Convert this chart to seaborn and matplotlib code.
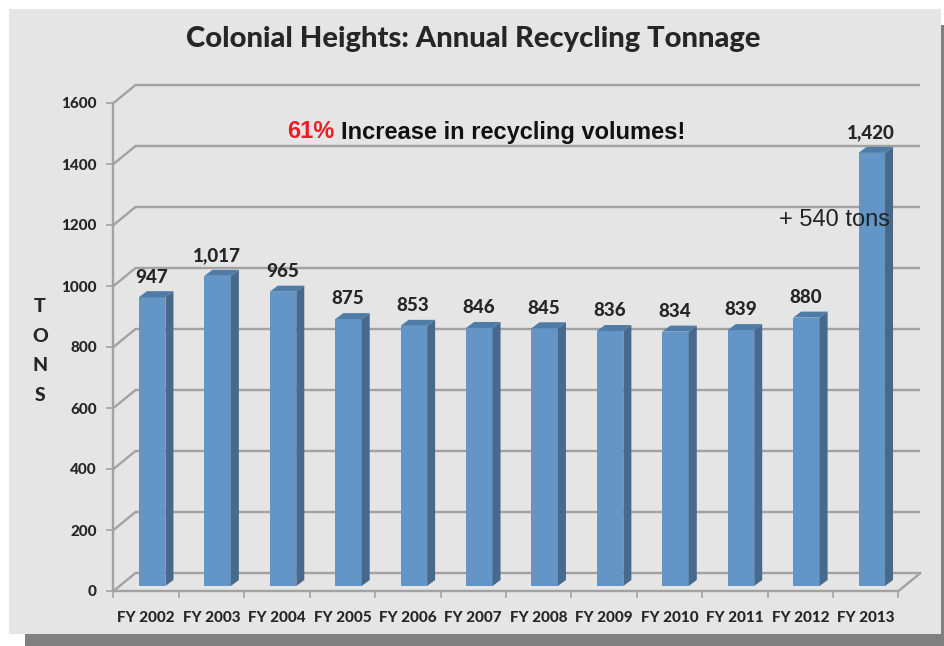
import matplotlib
matplotlib.use("Agg")
import matplotlib.pyplot as plt
import seaborn as sns
from matplotlib.patches import Polygon, Rectangle

years = ["FY 2002", "FY 2003", "FY 2004", "FY 2005", "FY 2006", "FY 2007",
         "FY 2008", "FY 2009", "FY 2010", "FY 2011", "FY 2012", "FY 2013"]
tons = [947, 1017, 965, 875, 853, 846, 845, 836, 834, 839, 880, 1420]
y_ticks = [0, 200, 400, 600, 800, 1000, 1200, 1400, 1600]

W, H = 945, 646
GRID = "#a2a2a2"
TEXT = "#262626"

sns.set_style("white")
plt.rcParams["font.family"] = ["Lato", "DejaVu Sans"]

fig = plt.figure(figsize=(W / 100, H / 100), dpi=100, facecolor="white")


def rect_px(x0, y0, x1, y1, color):
    fig.add_artist(Rectangle((x0 / W, 1 - y1 / H), (x1 - x0) / W, (y1 - y0) / H,
                             transform=fig.transFigure, color=color, lw=0, zorder=-10))


def text_px(x, y, s, **kw):
    fig.text(x / W, 1 - y / H, s, **kw)


# drop shadow and slide panel
rect_px(25, 25, 945, 646, "#808080")
rect_px(9, 9, 941, 634, "#e5e5e5")

# axes = front plane of the 3d box
ax = fig.add_axes([113.5 / W, 1 - 591 / H, 785 / W, 488 / H])
ax.patch.set_visible(False)

sns.barplot(x=years, y=tons, color="#6396c6", saturation=1, width=0.405, linewidth=0,
            ax=ax, zorder=3)

ax.set_xlim(-0.5, 11.5)
ax.set_ylim(0, 1600)

# pixel sizes converted to data units
ux = 12 / 785
uy = 1600 / 488
wall_dx, wall_dy = 22 * ux, 18 * uy
bar_dx, bar_dy = 8 * ux, 6 * uy
lift_x, lift_y = 6 * ux, 5 * uy

# back wall lines and the diagonals joining them to the axis
ax.hlines([v + wall_dy for v in y_ticks], -0.5 + wall_dx, 11.5 + wall_dx, colors=GRID, lw=1.7,
          clip_on=False, zorder=1)
for v in y_ticks:
    ax.plot([-0.5, -0.5 + wall_dx], [v, v + wall_dy], color=GRID, lw=1.7,
            clip_on=False, zorder=1)
ax.plot([11.5, 11.5 + wall_dx], [0, wall_dy], color=GRID, lw=1.7, clip_on=False, zorder=1)

# move the bars back into the box and add side and top faces
for bar, value in zip(ax.patches, tons):
    bar.set_x(bar.get_x() + lift_x)
    bar.set_y(lift_y)
    bar.set_clip_on(False)
    x0 = bar.get_x()
    x1 = x0 + bar.get_width()
    y0 = lift_y
    y1 = lift_y + value
    ax.add_patch(Polygon([(x1, y0), (x1 + bar_dx, y0 + bar_dy), (x1 + bar_dx, y1 + bar_dy), (x1, y1)],
                         color="#476a8c", lw=0, clip_on=False, zorder=3))
    ax.add_patch(Polygon([(x0, y1), (x1, y1), (x1 + bar_dx, y1 + bar_dy), (x0 + bar_dx, y1 + bar_dy)],
                         color="#4f7ca6", lw=0, clip_on=False, zorder=3))
    ax.annotate(f"{value:,}", ((x0 + x1) / 2 - 0.01, y1), xytext=(0, 14.5), textcoords="offset points",
                ha="center", va="center", fontsize=13.5, fontweight="black", color=TEXT,
                annotation_clip=False, zorder=5)

# axis lines and ticks
sns.despine(ax=ax, top=True, right=True)
for side in ["left", "bottom"]:
    ax.spines[side].set_color(GRID)
    ax.spines[side].set_linewidth(1.7)
ax.set_yticks(y_ticks)
ax.set_xticks([i - 0.5 for i in range(13)], minor=True)
ax.tick_params(axis="x", which="minor", bottom=True, length=5, width=1.2, color=GRID)
ax.tick_params(axis="x", which="major", bottom=False, pad=11)
ax.tick_params(axis="y", left=True, length=5, width=1.2, color=GRID, pad=7)
for label in ax.get_xticklabels():
    label.set(fontsize=11, fontweight="black", color=TEXT)
for label in ax.get_yticklabels():
    label.set(fontsize=11, fontweight="black", color=TEXT)
ax.set_xlabel("")
ax.set_ylabel("")

text_px(40, 351, "T\nO\nN\nS", ha="center", va="center", fontsize=14,
        fontweight="black", color=TEXT, linespacing=1.9)
text_px(473, 39, "Colonial Heights: Annual Recycling Tonnage", ha="center", va="center",
        fontsize=21, fontweight="black", color=TEXT)

text_px(287, 132, "61%", ha="left", va="center", fontsize=17, fontweight="bold",
        color="#ee1c25", family="Liberation Sans")
text_px(341, 132, "Increase in recycling volumes!", ha="left", va="center", fontsize=17,
        fontweight="bold", color="#111111", family="Liberation Sans")
text_px(779, 220, "+ 540 tons", ha="left", va="center", fontsize=17,
        color="#222222", family="Liberation Sans", zorder=6)

fig.savefig("out.png", dpi=100)
